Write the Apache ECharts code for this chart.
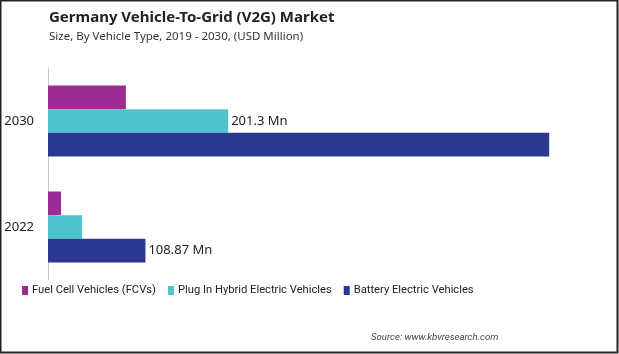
<!DOCTYPE html>
<html><head><meta charset="utf-8">
<script src="https://cdn.jsdelivr.net/npm/echarts@6/dist/echarts.min.js"></script>
<style>html,body{margin:0;padding:0;background:#fff}#c{width:619px;height:354px}</style>
</head><body><div id="c"></div>
<script>
const categories = ['2022', '2030'];
const seriesNames = ['Fuel Cell Vehicles (FCVs)', 'Plug In Hybrid Electric Vehicles', 'Battery Electric Vehicles'];
const fcv = [14.5, 87];
const phev = [38, 201.3];
const bev = [108.87, 560];
const colors = ['#9B2C94', '#4FC4CF', '#2B3990'];
const labelTexts = { 'Plug In Hybrid Electric Vehicles': [null, '201.3 Mn'], 'Battery Electric Vehicles': ['108.87 Mn', null] };

const chart = echarts.init(document.getElementById('c'));
const font = 'Noto Sans';
const font2 = 'Roboto';
const dataSets = [fcv, phev, bev];
const series = seriesNames.map((name, i) => ({
  name, type: 'bar', data: dataSets[i], itemStyle: { color: colors[i] },
  barGap: '0%', barCategoryGap: '33%',
  label: {
    show: !!labelTexts[name], position: 'right', distance: 3,
    color: '#222', fontFamily: font, fontSize: 13,
    formatter: p => (labelTexts[name] && labelTexts[name][p.dataIndex]) || ''
  }
}));
chart.setOption({
  animation: false,
  title: [
    { text: 'Germany Vehicle-To-Grid (V2G) Market', left: 44, top: 5,
      textStyle: { fontFamily: font, fontSize: 15, fontWeight: 'bold', color: '#222' } },
    { text: 'Size, By Vehicle Type, 2019 - 2030, (USD Million)', left: 44, top: 26,
      textStyle: { fontFamily: font, fontSize: 11.5, fontWeight: 'normal', color: '#333' } },
    { text: 'Source: www.kbvresearch.com', left: 366, top: 328,
      textStyle: { fontFamily: font2, fontSize: 9.6, fontStyle: 'italic', fontWeight: 'normal', color: '#444' } }
  ],
  legend: {
    data: seriesNames, left: 17, top: 280, itemWidth: 6, itemHeight: 9, itemGap: 12,
    icon: 'rect', textStyle: { fontFamily: font2, fontSize: 11.2, color: '#222', padding: [0, 0, 0, -1] }
  },
  grid: { left: 48, right: 34, top: 68, bottom: 74 },
  xAxis: { type: 'value', min: 0, max: 600, show: false },
  yAxis: {
    type: 'category', data: categories,
    axisLine: { show: true, lineStyle: { color: '#ccc' } },
    axisTick: { show: false },
    axisLabel: { fontFamily: font, fontSize: 13, color: '#222', margin: 14 }
  },
  series,
  graphic: [{ type: 'rect', shape: { x: 0.5, y: 0.5, width: 617, height: 352 },
    style: { fill: 'none', stroke: '#222', lineWidth: 2 }, silent: true }]
});
</script></body></html>
